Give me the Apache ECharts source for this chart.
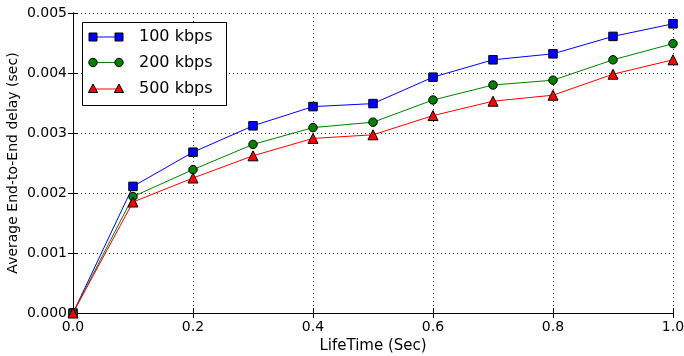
<!DOCTYPE html>
<html><head><meta charset="utf-8">
<script src="https://cdn.jsdelivr.net/npm/echarts@6/dist/echarts.min.js"></script>
<style>html,body{margin:0;padding:0;background:#fff}#c{width:684px;height:356px}</style>
</head><body><div id="c"></div>
<script>
const lifetimes = [0.0, 0.1, 0.2, 0.3, 0.4, 0.5, 0.6, 0.7, 0.8, 0.9, 1.0];
const delay100 = [0.0, 0.00211, 0.00268, 0.00312, 0.00344, 0.00349, 0.00393, 0.00422, 0.00432, 0.00461, 0.00482];
const delay200 = [0.0, 0.00194, 0.00239, 0.00281, 0.00309, 0.00318, 0.00355, 0.00380, 0.00388, 0.00422, 0.00449];
const delay500 = [0.0, 0.00185, 0.00225, 0.00262, 0.00291, 0.00297, 0.00329, 0.00353, 0.00363, 0.00398, 0.00422];
const seriesNames = ['100 kbps', '200 kbps', '500 kbps'];
const seriesColors = ['#0000ff', '#008000', '#ff0000'];
const seriesSymbols = ['rect', 'circle', 'triangle'];
const xTicks = [0.0, 0.2, 0.4, 0.6, 0.8, 1.0];
const yTicks = [0.000, 0.001, 0.002, 0.003, 0.004, 0.005];

const FONT = 'DejaVu Sans';
const chart = echarts.init(document.getElementById('c'), null, {renderer: 'canvas'});
const allData = [delay100, delay200, delay500];

const grid = {left: 73, right: 11, top: 13, bottom: 43, containLabel: false, outerBoundsMode: 'none'};
const tickCommon = {show: true, inside: true, length: 5, lineStyle: {color: '#000', width: 1}};
const splitCommon = {show: true, lineStyle: {color: '#000', width: 1, type: [1, 3], opacity: 0.8}};

const xAxisBase = {type: 'value', min: 0, max: 1, interval: 0.2,
  axisLine: {show: true, lineStyle: {color: '#000', width: 1}}, axisTick: tickCommon};
const yAxisBase = {type: 'value', min: 0, max: 0.005, interval: 0.001,
  axisLine: {show: true, lineStyle: {color: '#000', width: 1}}, axisTick: tickCommon};

// Manual legend (matplotlib style: marker at both ends of the line)
const lg = {x: 82, y: 22, w: 144, h: 83, rows: [37, 62.5, 89], lx0: 93, lx1: 119, tx: 139};
const legendEls = [{type: 'rect', shape: {x: lg.x + 0.5, y: lg.y + 0.5, width: lg.w, height: lg.h},
  style: {fill: '#fff', stroke: '#000', lineWidth: 1}, z: 100}];
seriesNames.forEach((n, i) => {
  const y = lg.rows[i];
  legendEls.push({type: 'line', shape: {x1: lg.lx0, y1: y, x2: lg.lx1, y2: y},
    style: {stroke: seriesColors[i], lineWidth: 1}, z: 101});
  [lg.lx0, lg.lx1].forEach(cx => {
    let el;
    if (seriesSymbols[i] === 'rect') el = {type: 'rect', shape: {x: cx - 4, y: y - 4, width: 8, height: 8}};
    else if (seriesSymbols[i] === 'circle') el = {type: 'circle', shape: {cx: cx, cy: y, r: 4.2}};
    else el = {type: 'polygon', shape: {points: [[cx, y - 5], [cx + 4.6, y + 3.5], [cx - 4.6, y + 3.5]]}};
    el.style = {fill: seriesColors[i], stroke: '#000', lineWidth: 1};
    el.z = 102;
    legendEls.push(el);
  });
  legendEls.push({type: 'text', x: lg.tx, y: y, z: 102,
    style: {text: n, font: '16px "' + FONT + '"', fill: '#000', verticalAlign: 'middle', align: 'left'}});
});

chart.setOption({
  backgroundColor: '#fff',
  animation: false,
  textStyle: {fontFamily: FONT},
  grid: grid,
  xAxis: [
    Object.assign({}, xAxisBase, {position: 'bottom', name: 'LifeTime (Sec)', nameLocation: 'middle', nameGap: 26,
      nameMoveOverlap: false,
      nameTextStyle: {fontSize: 15, color: '#000', fontFamily: FONT},
      axisLabel: {show: true, color: '#000', fontSize: 14, margin: 7, fontFamily: FONT,
        formatter: v => v.toFixed(1)},
      splitLine: splitCommon}),
    Object.assign({}, xAxisBase, {position: 'top', axisLabel: {show: false}, splitLine: {show: false}})
  ],
  yAxis: [
    Object.assign({}, yAxisBase, {position: 'left', name: 'Average End-to-End delay (sec)', nameLocation: 'middle', nameGap: 53,
      nameMoveOverlap: false,
      nameTextStyle: {fontSize: 14, color: '#000', fontFamily: FONT},
      axisLabel: {show: true, color: '#000', fontSize: 14, margin: 6, fontFamily: FONT,
        formatter: v => v.toFixed(3)},
      splitLine: splitCommon}),
    Object.assign({}, yAxisBase, {position: 'right', axisLabel: {show: false}, splitLine: {show: false}})
  ],
  series: seriesNames.map((n, i) => ({
    name: n, type: 'line', xAxisIndex: 0, yAxisIndex: 0,
    data: lifetimes.map((x, k) => [x, allData[i][k]]),
    symbol: seriesSymbols[i], symbolSize: seriesSymbols[i] === 'triangle' ? 10 : 8.5,
    showAllSymbol: true, clip: false,
    lineStyle: {color: seriesColors[i], width: 1},
    itemStyle: {color: seriesColors[i], borderColor: '#000', borderWidth: 1},
    z: 10 + i
  })),
  graphic: legendEls
});
</script></body></html>
